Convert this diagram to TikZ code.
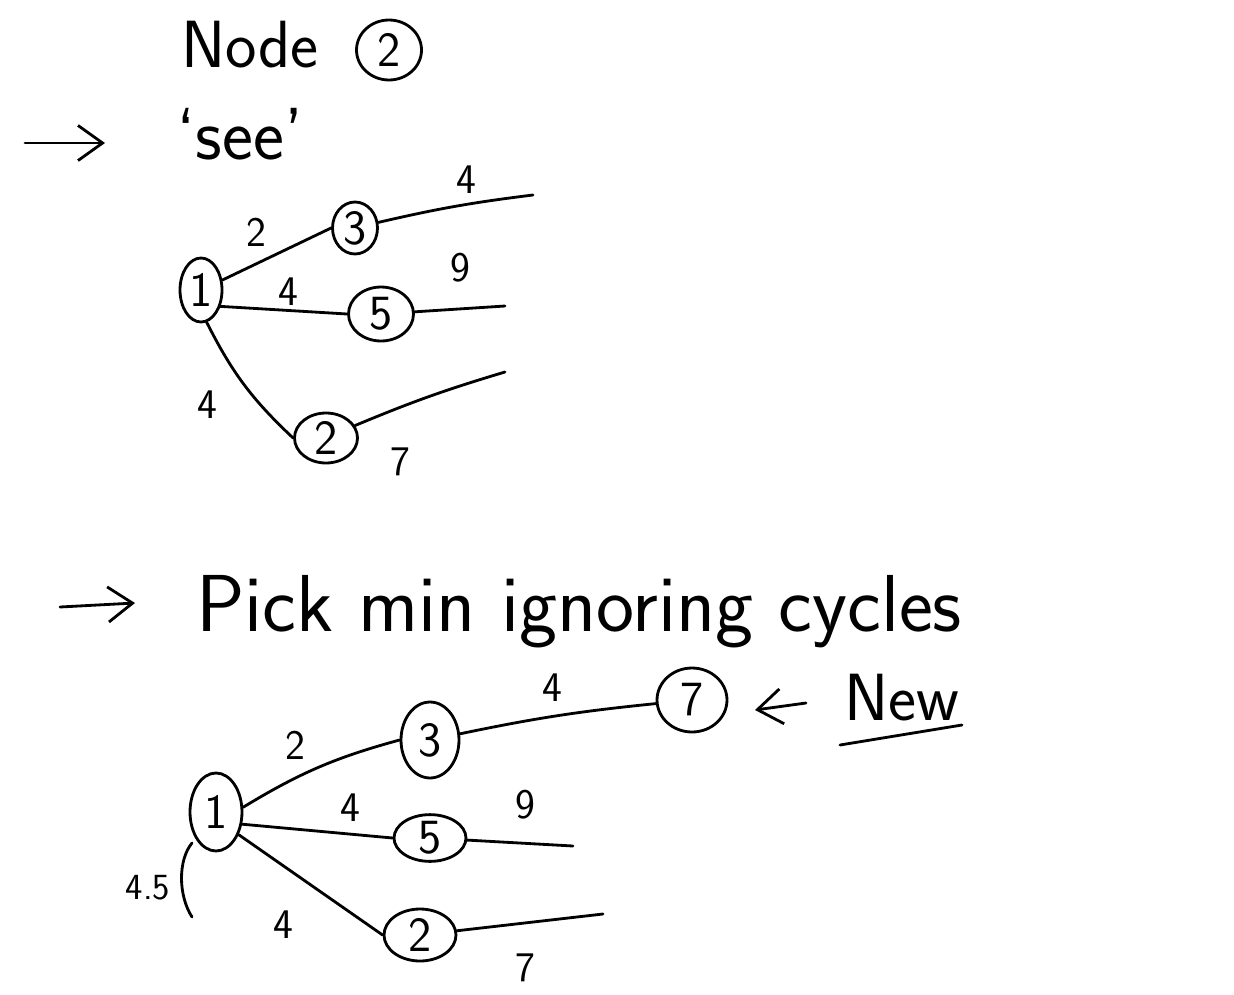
\documentclass[tikz,border=0pt]{standalone}
\usepackage{tikz}
\usetikzlibrary{arrows.meta,shapes.geometric}

\begin{document}
\begin{tikzpicture}[
      x=0.02cm, y=-0.02cm,
      line width=1.6pt, line cap=round,
      vtx/.style={draw, ellipse, line width=1.6pt, inner sep=0pt, font=\sffamily\fontsize{28}{28}\selectfont},
      lbl/.style={font=\sffamily\fontsize{24}{24}\selectfont},
      note/.style={font=\sffamily\fontsize{38}{38}\selectfont},
      arr/.style={-{Straight Barb[length=14pt,width=20pt]}, line width=1.6pt}
    ]
      \useasboundingbox (0,0) rectangle (1234,994);
      % top: Node 2 'see'
      \node[note] (hd) at (250,45) {Node};
      \node[vtx, minimum width=1.3cm, minimum height=1.2cm] (hdn) at (389,50) {2};
      \coordinate (a1s) at (25,143);
      \coordinate (a1e) at (105,143);
      \draw[arr] (a1s) -- (a1e);
      \node[note, font=\sffamily\fontsize{42}{42}\selectfont] (see) at (240,134) {`see'};
      \node[vtx, minimum width=0.84cm, minimum height=1.28cm] (t1) at (201,290) {1};
      \node[vtx, minimum width=0.9cm, minimum height=1.04cm] (t3) at (355,228) {3};
      \node[vtx, minimum width=1.3cm, minimum height=1.08cm] (t5) at (381,314) {5};
      \node[vtx, minimum width=1.26cm, minimum height=1.0cm] (t2) at (326,438) {2};
      \coordinate (t3e) at (533,195);
      \coordinate (t5e) at (505,306);
      \coordinate (t2e) at (505,372);
      \draw (t1.25) -- (t3.west);
      \draw (t1.-40) -- (t5.west);
      \draw (t1.-80) to[bend right=10] (t2.west);
      \draw (t3) to[bend left=3] (t3e);
      \draw (t5) -- (t5e);
      \draw (t2) to[bend left=3] (t2e);
      \node[lbl] (w13) at (256,232) {2};
      \node[lbl] (w15) at (288,292) {4};
      \node[lbl] (w12) at (207,405) {4};
      \node[lbl] (w3e) at (466,180) {4};
      \node[lbl] (w5e) at (460,268) {9};
      \node[lbl] (w2e) at (400,462) {7};
      % bottom: pick min
      \coordinate (a2s) at (60,607);
      \coordinate (a2e) at (135,603);
      \draw[arr] (a2s) -- (a2e);
      \node[note, font=\sffamily\fontsize{46}{46}\selectfont] (pick) at (579,612) {Pick min ignoring cycles};
      \node[vtx, minimum width=1.04cm, minimum height=1.56cm] (b1) at (216,812) {1};
      \node[vtx, minimum width=1.16cm, minimum height=1.52cm] (b3) at (430,740) {3};
      \node[vtx, minimum width=1.4cm, minimum height=1.28cm] (b7) at (692,700) {7};
      \node[vtx, minimum width=1.44cm, minimum height=0.92cm] (b5) at (430,838) {5};
      \node[vtx, minimum width=1.44cm, minimum height=1.04cm] (b2) at (420,935) {2};
      \coordinate (b5e) at (573,846);
      \coordinate (b2e) at (603,914);
      \draw (b1.10) to[bend left=8] (b3.west);
      \draw (b3) to[bend left=3] (b7);
      \draw (b1.-25) -- (b5.west);
      \draw (b1.-45) -- (b2.west);
      \draw (b5) -- (b5e);
      \draw (b2) -- (b2e);
      \node[lbl] (v13) at (295,745) {2};
      \node[lbl] (v37) at (552,688) {4};
      \node[lbl] (v15) at (350,808) {4};
      \node[lbl] (v5e) at (525,805) {9};
      \node[lbl] (v12) at (283,925) {4};
      \node[lbl] (v2e) at (525,968) {7};
      \node[note] (new) at (902,698) {New};
      \coordinate (u1) at (840,745);
      \coordinate (u2) at (962,725);
      \draw (u1) -- (u2);
      \coordinate (a3s) at (806,703);
      \coordinate (a3e) at (755,710);
      \draw[arr] (a3s) -- (a3e);
      \coordinate (br1) at (192,843);
      \coordinate (br2) at (192,917);
      \draw (br1) .. controls (178,860) and (178,895) .. (br2);
      \node[lbl, font=\sffamily\fontsize{21}{21}\selectfont] (w45) at (148,888) {4.5};
    \end{tikzpicture}
\end{document}
